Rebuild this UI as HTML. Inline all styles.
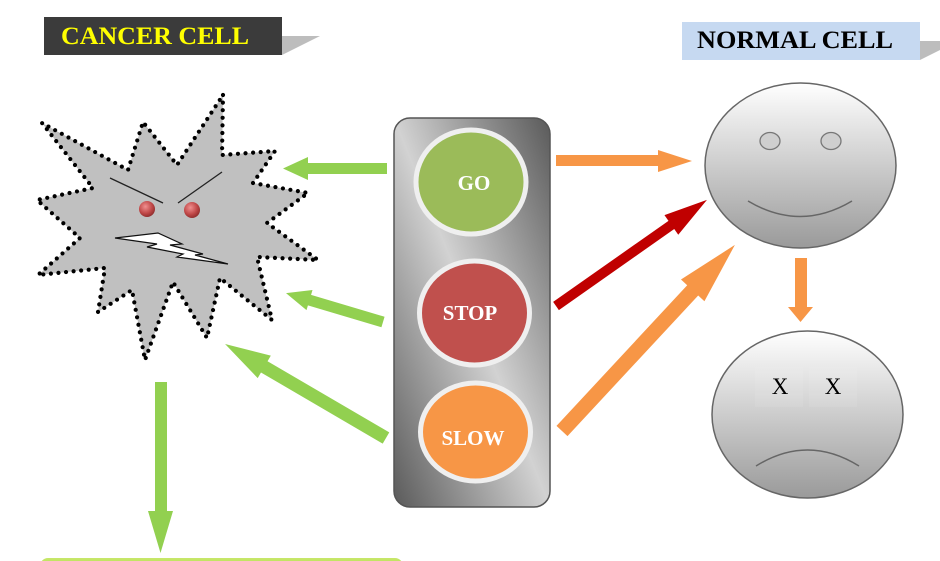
<!DOCTYPE html>
<html><head><meta charset="utf-8"><style>
html,body{margin:0;padding:0;background:#fff;width:940px;height:561px;overflow:hidden}
svg{display:block}
</style></head><body>
<svg width="940" height="561" viewBox="0 0 940 561" xmlns="http://www.w3.org/2000/svg">
<defs>
<linearGradient id="tl" x1="1" y1="0" x2="0" y2="1">
<stop offset="0" stop-color="#5a5a5a"/><stop offset="0.5" stop-color="#d2d2d2"/><stop offset="1" stop-color="#5a5a5a"/>
</linearGradient>
<linearGradient id="face" x1="0" y1="0" x2="0" y2="1">
<stop offset="0" stop-color="#ffffff"/><stop offset="1" stop-color="#9a9a9a"/>
</linearGradient>
<radialGradient id="eye" cx="0.4" cy="0.35" r="0.7">
<stop offset="0" stop-color="#f09090"/><stop offset="0.6" stop-color="#c04848"/><stop offset="1" stop-color="#8a2a2a"/>
</radialGradient>
<linearGradient id="gb" x1="0" y1="0" x2="0" y2="1">
<stop offset="0" stop-color="#c8e86a"/><stop offset="1" stop-color="#9ccc3c"/>
</linearGradient>
</defs>

<!-- labels -->
<polygon points="282,36 320,36 282,55" fill="#bdbdbd"/>
<rect x="44" y="17" width="238" height="38" fill="#3b3b3b"/>
<text x="61" y="44" font-family="Liberation Serif, serif" font-weight="bold" font-size="25" fill="#ffff00" textLength="188" lengthAdjust="spacingAndGlyphs">CANCER CELL</text>

<polygon points="920,41 958,41 920,60" fill="#bdbdbd"/>
<rect x="682" y="22" width="238" height="38" fill="#c6d9f1"/>
<text x="697" y="48" font-family="Liberation Serif, serif" font-weight="bold" font-size="25" fill="#000" textLength="196" lengthAdjust="spacingAndGlyphs">NORMAL CELL</text>

<!-- cancer cell star -->
<polygon points="223,95 222,155 275,151 253,183 308,193 267,223 318,260 257,257 272,320 220,278 207,338 173,282 145,360 132,290 98,312 105,268 38,275 80,238 37,200 93,188 42,123 128,170 143,122 177,165"
 fill="#c0c0c0" stroke="#000" stroke-width="4.2" stroke-dasharray="0 7.6" stroke-linecap="round" stroke-linejoin="round"/>
<line x1="110" y1="178" x2="163" y2="203" stroke="#222" stroke-width="1.3"/>
<line x1="178" y1="203" x2="222" y2="172" stroke="#222" stroke-width="1.3"/>
<circle cx="147" cy="209" r="8" fill="url(#eye)"/>
<circle cx="192" cy="210" r="8" fill="url(#eye)"/>
<polygon points="115,238 158,233 182,244 170,245 203,254 195,255 228,264 177,257 183,254 147,247 157,244" fill="#fff" stroke="#111" stroke-width="1.2" stroke-linejoin="miter"/>

<!-- green arrows -->
<polygon points="387,163 308,163 308,157 283,168.5 308,180 308,174 387,174" fill="#92d050"/>
<g transform="translate(383,322) rotate(196.6)">
<polygon points="0,-5.5 76.7,-5.5 76.7,-10.5 101.2,0 76.7,10.5 76.7,5.5 0,5.5" fill="#92d050"/>
</g>
<g transform="translate(386,438) rotate(210.3)">
<polygon points="0,-6.5 141,-6.5 141,-13 186.4,0 141,13 141,6.5 0,6.5" fill="#92d050"/>
</g>
<polygon points="155,382 167,382 167,511 173,511 160.5,553 148,511 155,511" fill="#92d050"/>

<!-- bottom green box -->
<rect x="40" y="558" width="363" height="20" rx="8" fill="url(#gb)"/>

<!-- traffic light -->
<rect x="394" y="118" width="156" height="389" rx="16" fill="url(#tl)" stroke="#555" stroke-width="1.5"/>
<ellipse cx="471" cy="182" rx="55" ry="52" fill="#9bbb59" stroke="#efefef" stroke-width="5"/>
<ellipse cx="474.5" cy="313" rx="55" ry="52" fill="#c0504d" stroke="#efefef" stroke-width="5"/>
<ellipse cx="475.5" cy="432" rx="55" ry="49" fill="#f79646" stroke="#efefef" stroke-width="5"/>
<text x="474" y="190" text-anchor="middle" font-family="Liberation Serif, serif" font-weight="bold" font-size="21" fill="#fff">GO</text>
<text x="470" y="320" text-anchor="middle" font-family="Liberation Serif, serif" font-weight="bold" font-size="21" fill="#fff">STOP</text>
<text x="473" y="445" text-anchor="middle" font-family="Liberation Serif, serif" font-weight="bold" font-size="21" fill="#fff">SLOW</text>

<!-- right arrows -->
<polygon points="556,155 658,155 658,150 692,161 658,172 658,166 556,166" fill="#f79646"/>
<g transform="translate(556,306) rotate(-35.1)">
<polygon points="0,-5 141,-5 141,-12 184.5,0 141,12 141,5 0,5" fill="#c00000"/>
</g>
<g transform="translate(562,431) rotate(-47.1)">
<polygon points="0,-7.5 192,-7.5 192,-16 254,0 192,16 192,7.5 0,7.5" fill="#f79646"/>
</g>
<polygon points="795,258 807,258 807,307 813,307 800.5,322 788,307 795,307" fill="#f79646"/>

<!-- normal cell smiley -->
<ellipse cx="800.5" cy="165.5" rx="95.5" ry="82.5" fill="url(#face)" stroke="#666" stroke-width="1.5"/>
<ellipse cx="770" cy="141" rx="10" ry="8.5" fill="#cfcfcf" stroke="#777" stroke-width="1.3"/>
<ellipse cx="831" cy="141" rx="10" ry="8.5" fill="#cfcfcf" stroke="#777" stroke-width="1.3"/>
<path d="M748,201 Q800,232 852,201" fill="none" stroke="#666" stroke-width="1.5"/>

<!-- sad face -->
<ellipse cx="807.5" cy="414.5" rx="95.5" ry="83.5" fill="url(#face)" stroke="#666" stroke-width="1.5"/>
<rect x="755" y="367" width="48" height="40" fill="#ffffff" opacity="0.08"/>
<rect x="809" y="367" width="48" height="40" fill="#ffffff" opacity="0.08"/>
<text x="780" y="394" text-anchor="middle" font-family="Liberation Serif, serif" font-size="23" fill="#000">X</text>
<text x="833" y="394" text-anchor="middle" font-family="Liberation Serif, serif" font-size="23" fill="#000">X</text>
<path d="M756,466 Q807.5,434 859,466" fill="none" stroke="#666" stroke-width="1.5"/>
</svg>
</body></html>
